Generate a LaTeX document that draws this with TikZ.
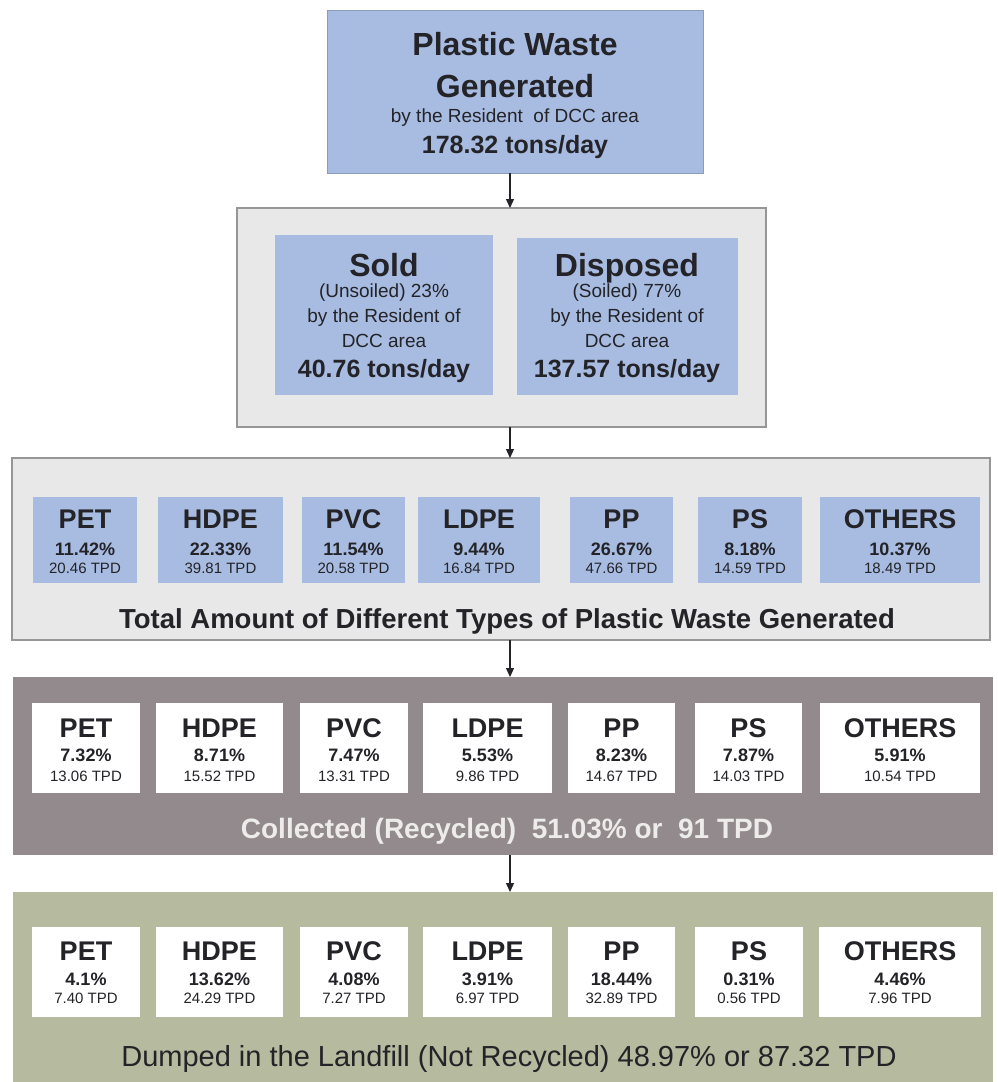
\documentclass[tikz,border=0pt]{standalone}
\usepackage{fontspec}
\setmainfont{Liberation Sans}
\usetikzlibrary{arrows.meta}
\definecolor{ink}{RGB}{35,35,40}
\definecolor{blueF}{RGB}{168,188,225}
\definecolor{blueD}{RGB}{140,156,190}
\definecolor{grayF}{RGB}{232,232,232}
\definecolor{grayD}{RGB}{150,150,150}
\definecolor{darkF}{RGB}{146,138,140}
\definecolor{oliveF}{RGB}{182,186,158}
\definecolor{lightT}{RGB}{238,235,235}
\newcommand\boxat[6]{\node[#6, anchor=north west, inner sep=0pt, outer sep=0pt,
  minimum width={(#4-#2)*1pt}, minimum height={(#5-#3)*1pt}] (#1) at (#2,#3) {};}
\newcommand\prow[8]{%
  \foreach \k/\xa/\xb/\lab/\pc/\tp in {#8} {
    \boxat{#1\k}{\xa}{#3}{\xb}{#4}{#2}
    \node[tname] (#1\k-a) at ({(\xa+\xb)/2},#5) {\lab};
    \node[tpct]  (#1\k-b) at ({(\xa+\xb)/2},#6) {\pc};
    \node[ttpd]  (#1\k-c) at ({(\xa+\xb)/2},#7) {\tp};
  }}
\tikzset{
  txt/.style={anchor=base, inner sep=0pt, text=ink, align=center},
  tname/.style={txt, font=\fontsize{27}{30}\selectfont\bfseries},
  tpct/.style={txt, font=\fontsize{18}{20}\selectfont\bfseries},
  ttpd/.style={txt, font=\fontsize{15}{17}\selectfont},
  tbig/.style={txt, font=\fontsize{32}{36}\selectfont\bfseries},
  tsub/.style={txt, font=\fontsize{19}{22}\selectfont},
  tval/.style={txt, font=\fontsize{25}{28}\selectfont\bfseries},
  bluebox/.style={fill=blueF, draw=blueD, line width=0.8pt},
  typeblue/.style={fill=blueF},
  typewhite/.style={fill=white},
  panel/.style={fill=grayF, draw=grayD, line width=1.2pt},
  darkpanel/.style={fill=darkF},
  olivepanel/.style={fill=oliveF},
  arr/.style={draw=ink, line width=1.3pt, -{Triangle[length=9pt,width=8pt]}}
}
\begin{document}
\begin{tikzpicture}[x=1pt,y=-1pt]
\useasboundingbox[fill=white] (0,0) rectangle (998,1082);

% top box
\boxat{top}{327}{10}{703}{173}{bluebox}
\node[tbig] (topa) at (515,55) {Plastic Waste};
\node[tbig] (topb) at (515,97) {Generated};
\node[tsub] (topc) at (515,122) {by the Resident\ \ of DCC area};
\node[tval] (topd) at (515,153) {178.32 tons/day};

% sold / disposed panel
\boxat{c2}{237}{208}{766}{427}{panel}
\boxat{sold}{275}{235}{493}{395}{bluebox, draw=none}
\boxat{disp}{517}{238}{738}{395}{bluebox, draw=none}
\node[tbig] (solda) at (384,276) {Sold};
\node[tsub] (soldb) at (384,297) {(Unsoiled) 23\%};
\node[tsub] (soldc) at (384,322) {by the Resident of};
\node[tsub] (soldd) at (384,347) {DCC area};
\node[tval] (solde) at (384,377) {40.76 tons/day};
\node[tbig] (dispa) at (627,276) {Disposed};
\node[tsub] (dispb) at (627,297) {(Soiled) 77\%};
\node[tsub] (dispc) at (627,322) {by the Resident of};
\node[tsub] (dispd) at (627,347) {DCC area};
\node[tval] (dispe) at (627,377) {137.57 tons/day};

% total amount panel
\boxat{c3}{12}{458}{990}{640}{panel}
\prow{ra}{typeblue}{497}{583}{528}{555}{573}{%
  pet/33/137/PET/11.42\%/20.46 TPD,
  hdpe/158/283/HDPE/22.33\%/39.81 TPD,
  pvc/302/405/PVC/11.54\%/20.58 TPD,
  ldpe/418/540/LDPE/9.44\%/16.84 TPD,
  pp/570/673/PP/26.67\%/47.66 TPD,
  ps/698/802/PS/8.18\%/14.59 TPD,
  oth/820/980/OTHERS/10.37\%/18.49 TPD}
\node[txt, font=\fontsize{27.5}{30}\selectfont\bfseries] (c3t) at (507,628)
  {Total Amount of Different Types of Plastic Waste Generated};

% collected panel
\boxat{c4}{13}{677}{993}{855}{darkpanel}
\prow{rb}{typewhite}{703}{793}{737}{761}{781}{%
  pet/32/140/PET/7.32\%/13.06 TPD,
  hdpe/156/283/HDPE/8.71\%/15.52 TPD,
  pvc/300/408/PVC/7.47\%/13.31 TPD,
  ldpe/423/552/LDPE/5.53\%/9.86 TPD,
  pp/568/675/PP/8.23\%/14.67 TPD,
  ps/695/802/PS/7.87\%/14.03 TPD,
  oth/820/980/OTHERS/5.91\%/10.54 TPD}
\node[txt, text=lightT, font=\fontsize{28}{30}\selectfont\bfseries] (c4t) at (507,838)
  {Collected (Recycled)\ \ 51.03\% or\ \ 91 TPD};

% landfill panel
\boxat{c5}{13}{892}{993}{1090}{olivepanel}
\prow{rc}{typewhite}{927}{1017}{960}{985}{1003}{%
  pet/32/140/PET/4.1\%/7.40 TPD,
  hdpe/156/283/HDPE/13.62\%/24.29 TPD,
  pvc/300/408/PVC/4.08\%/7.27 TPD,
  ldpe/423/552/LDPE/3.91\%/6.97 TPD,
  pp/568/675/PP/18.44\%/32.89 TPD,
  ps/695/803/PS/0.31\%/0.56 TPD,
  oth/819/981/OTHERS/4.46\%/7.96 TPD}
\node[txt, font=\fontsize{29}{31}\selectfont] (c5t) at (509,1066)
  {Dumped in the Landfill (Not Recycled) 48.97\% or 87.32 TPD};

% connectors
\coordinate (ax) at (510,0);
\draw[arr] (top.south -| ax) -- (c2.north -| ax);
\draw[arr] (c2.south -| ax) -- (c3.north -| ax);
\draw[arr] (c3.south -| ax) -- (c4.north -| ax);
\draw[arr] (c4.south -| ax) -- (c5.north -| ax);
\end{tikzpicture}
\end{document}
